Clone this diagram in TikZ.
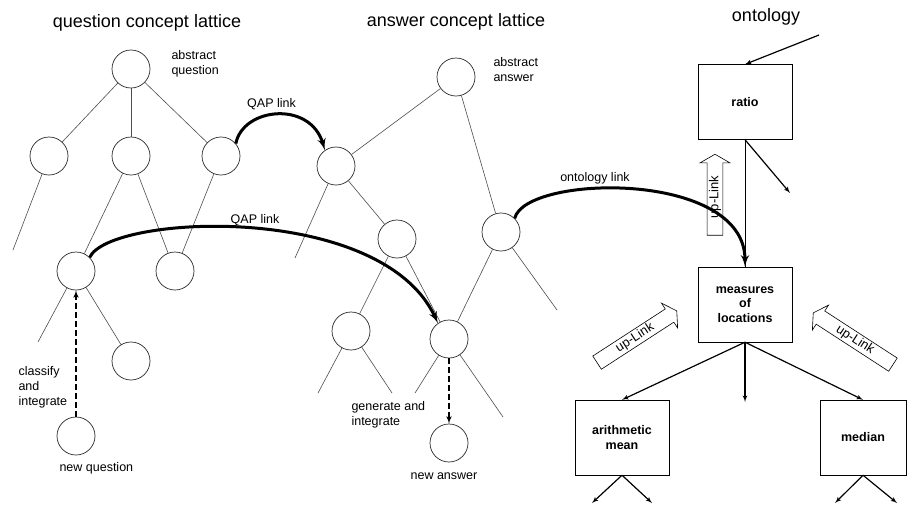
\documentclass[tikz,border=0pt]{standalone}
\usepackage{fontspec}
\setmainfont{Liberation Sans}
\usepackage{tikz}
\usetikzlibrary{shapes,arrows,calc}
\tikzstyle{line} = [draw, -latex', line width=1.2pt]
\tikzstyle{edge} = [draw, black!70, line width=0.6pt]
\tikzstyle{concept} = [draw, circle, black!85, line width=0.7pt, minimum size=38pt, inner sep=0pt]
\tikzstyle{block} = [draw, rectangle, text centered, align=center, minimum width=94pt, minimum height=75pt, font=\fontsize{12.5}{14.5}\selectfont\bfseries]
\tikzstyle{link} = [draw, line width=3pt, -latex']
\tikzstyle{move} = [draw, line width=1.5pt, dash pattern=on 6pt off 3pt, -latex']
\tikzstyle{uplink} = [draw, single arrow, single arrow head extend=7pt, single arrow tip angle=120, inner sep=1.5pt, line width=0.6pt, font=\fontsize{13}{13}\selectfont]
\tikzstyle{title} = [font=\fontsize{18}{20}\selectfont]
\tikzstyle{note} = [align=left, font=\fontsize{12.5}{15}\selectfont]

\begin{document}
\begin{tikzpicture}[x=1pt, y=-1pt]
        \useasboundingbox (0,0) rectangle (909,507);
        % question concept lattice
        \node[title] (qtitle) at (147,23) {question concept lattice};
        \node[concept] (qzero) at (131,69) {};
        \node[concept] (qone) at (49,156) {};
        \node[concept] (qtwo) at (131,156) {};
        \node[concept] (qthree) at (221,156) {};
        \node[concept] (qfour) at (76,271) {};
        \node[concept] (qfive) at (175,271) {};
        \node[concept] (qsix) at (131,361) {};
        \node[concept, below of=qfour, node distance=165pt] (qnew) {};
        \node[note, anchor=west] (qabstract) at (168,64) {abstract\\question};
        \node[note, anchor=west] (classify) at (15,387) {classify\\and\\integrate};
        \node[note, anchor=west] (qnewlabel) at (56,468) {new question};
        \coordinate (qonetail) at (13,250);
        \coordinate (qfourtail) at (38,342);
        \path[edge] (qzero) -- (qone);
        \path[edge] (qzero) -- (qtwo);
        \path[edge] (qzero) -- (qthree);
        \path[edge] (qone) -- (qonetail);
        \path[edge] (qtwo) -- (qfour);
        \path[edge] (qtwo) -- (qfive);
        \path[edge] (qthree) -- (qfive);
        \path[edge] (qfour) -- (qfourtail);
        \path[edge] (qfour) -- (qsix);
        \path[move] (qnew) -- (qfour);
        % answer concept lattice
        \node[title] (atitle) at (456,22) {answer concept lattice};
        \node[concept] (azero) at (456,77) {};
        \node[concept] (aone) at (336,166) {};
        \node[concept] (atwo) at (397,239) {};
        \node[concept] (athree) at (501,232) {};
        \node[concept] (afour) at (351,331) {};
        \node[concept] (afive) at (449,339) {};
        \node[concept, below of=afive, node distance=104pt] (anew) {};
        \node[note, anchor=west] (aabstract) at (490,70) {abstract\\answer};
        \node[note, anchor=west] (generate) at (348,415) {generate and\\integrate};
        \node[note] (anewlabel) at (444,476) {new answer};
        \coordinate (aonetail) at (295,258);
        \coordinate (athreetail) at (557,310);
        \coordinate (afourleft) at (318,393);
        \coordinate (afourright) at (392,393);
        \coordinate (afiveleft) at (415,393);
        \coordinate (afiveright) at (503,417);
        \path[edge] (azero) -- (aone);
        \path[edge] (azero) -- (athree);
        \path[edge] (aone) -- (aonetail);
        \path[edge] (aone) -- (atwo);
        \path[edge] (atwo) -- (afour);
        \path[edge] (atwo) -- (afive);
        \path[edge] (athree) -- (afive);
        \path[edge] (athree) -- (athreetail);
        \path[edge] (afour) -- (afourleft);
        \path[edge] (afour) -- (afourright);
        \path[edge] (afive) -- (afiveleft);
        \path[edge] (afive) -- (afiveright);
        \path[move] (afive) -- (anew);
        % ontology
        \node[title] (otitle) at (766,17) {ontology};
        \node[block] (ratio) at (745,102) {ratio};
        \node[block, below of=ratio, node distance=202.5pt] (measures) {measures\\of\\locations};
        \node[block] (mean) at (622,437.5) {arithmetic\\mean};
        \node[block, minimum width=86pt] (median) at (863,437.5) {median};
        \coordinate (ontin) at (819,35);
        \coordinate (ratioout) at (790,193);
        \coordinate (measuresout) at (745,402);
        \coordinate (meanleft) at (592,503);
        \coordinate (meanright) at (652,503);
        \coordinate (medianleft) at (835,503);
        \coordinate (medianright) at (897,503);
        \path[line] (ontin) -- (ratio.north);
        \path[line] (ratio.south) -- (ratioout);
        \path[draw, line width=0.8pt] (ratio.south) -- (measures.north);
        \path[line] (measures.south) -- (mean.north);
        \path[line] (measures.south) -- (measuresout);
        \path[line] (measures.south) -- (median.north);
        \path[line] (mean.south) -- (meanleft);
        \path[line] (mean.south) -- (meanright);
        \path[line] (median.south) -- (medianleft);
        \path[line] (median.south) -- (medianright);
        \node[uplink, rotate=90, minimum height=81pt] (upone) at (715,197) {up-Link};
        \node[uplink, rotate=33, minimum height=95pt] (uptwo) at (635,338) {up-Link};
        \node[uplink, rotate=-33, shape border rotate=180, minimum height=95pt] (upthree) at (855,340) {up-Link};
        % links between lattices and ontology
        \path[link] (qthree.40) .. controls +(7,-36) and +(-15,-50) .. node[note, above, pos=0.45] {QAP link} (aone.125);
        \path[link] (qfour.45) .. controls +(20,-43) and +(-57,-122) .. (afive.125);
        \node[note] (qaplabel) at (255,220) {QAP link};
        \path[link] (athree.45) .. controls +(11,-44) and +(0,-97) .. (measures.north);
        \node[note] (ontlabel) at (595,178) {ontology link};
\end{tikzpicture}
\end{document}
